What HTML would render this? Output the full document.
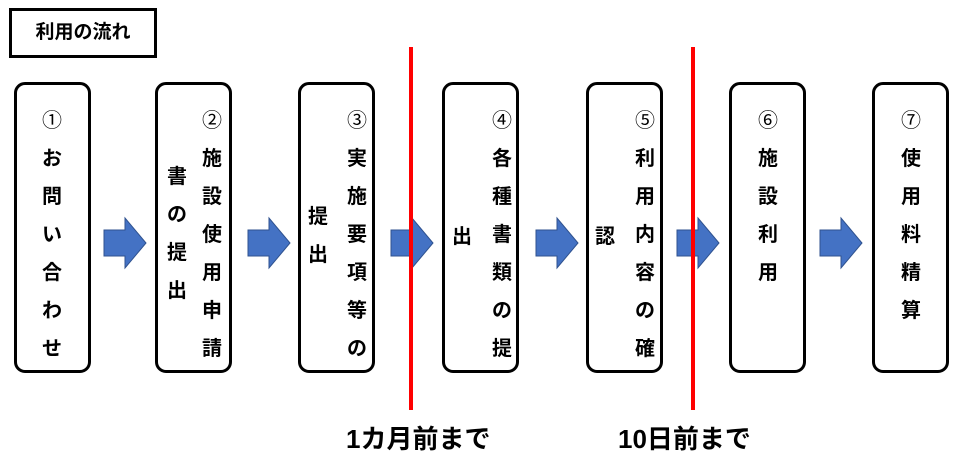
<!DOCTYPE html>
<html><head><meta charset="utf-8"><style>
body{margin:0;width:963px;height:468px;background:#fff;position:relative;overflow:hidden;font-family:"Liberation Sans","Noto Sans CJK JP",sans-serif;}
.b{position:absolute;top:82px;width:71px;height:285px;border:3.5px solid #000;border-radius:11px;}
.c{position:absolute;width:30px;margin-left:-15px;text-align:center;font-size:20px;font-weight:bold;line-height:38px;}
.c span{font-weight:normal;}
.r{position:absolute;top:47px;width:4px;height:363px;background:#f00;}
.l{position:absolute;top:424px;font-size:26px;font-weight:bold;line-height:30px;}
</style></head><body>
<div style="position:absolute;left:9px;top:8px;width:142px;height:44px;border:3px solid #000;font-size:19px;font-weight:bold;line-height:44px;text-align:center;">利用の流れ</div>

<div class="b" style="left:14px"></div>
<div class="b" style="left:155px"></div>
<div class="b" style="left:298px"></div>
<div class="b" style="left:442px"></div>
<div class="b" style="left:586px"></div>
<div class="b" style="left:729px"></div>
<div class="b" style="left:872px"></div>

<div class="c" style="left:52px;top:102px"><span>①</span><br>お<br>問<br>い<br>合<br>わ<br>せ</div>
<div class="c" style="left:212px;top:102px"><span>②</span><br>施<br>設<br>使<br>用<br>申<br>請</div>
<div class="c" style="left:177px;top:158px">書<br>の<br>提<br>出</div>
<div class="c" style="left:357px;top:102px"><span>③</span><br>実<br>施<br>要<br>項<br>等<br>の</div>
<div class="c" style="left:318px;top:198px">提<br>出</div>
<div class="c" style="left:502px;top:102px"><span>④</span><br>各<br>種<br>書<br>類<br>の<br>提</div>
<div class="c" style="left:462px;top:218px">出</div>
<div class="c" style="left:645px;top:102px"><span>⑤</span><br>利<br>用<br>内<br>容<br>の<br>確</div>
<div class="c" style="left:605px;top:218px">認</div>
<div class="c" style="left:768px;top:102px"><span>⑥</span><br>施<br>設<br>利<br>用</div>
<div class="c" style="left:911px;top:102px"><span>⑦</span><br>使<br>用<br>料<br>精<br>算</div>

<svg style="position:absolute;left:0;top:0" width="963" height="468">
<defs><path id="a" d="M0 12 H21 V0 L42 25 L21 50 V38 H0 Z" fill="#4472c4" stroke="#2f528f" stroke-width="1"/></defs>
<use href="#a" x="104" y="218"/>
<use href="#a" x="248" y="218"/>
<use href="#a" x="391" y="218"/>
<use href="#a" x="536" y="218"/>
<use href="#a" x="677" y="218"/>
<use href="#a" x="820" y="218"/>
</svg>
<div class="r" style="left:409px"></div>
<div class="r" style="left:691px"></div>
<div class="l" style="left:346px">1カ月前まで</div>
<div class="l" style="left:618px">10日前まで</div>
</body></html>
